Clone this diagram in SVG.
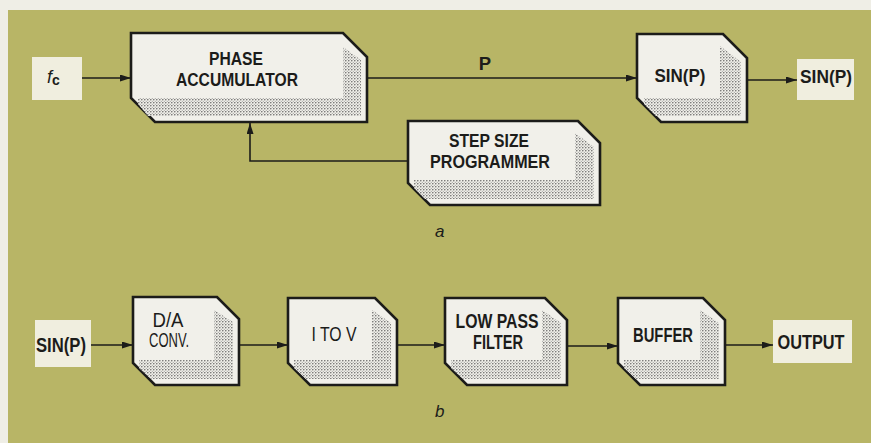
<svg xmlns="http://www.w3.org/2000/svg" width="871" height="443" viewBox="0 0 871 443">
<style>
.box{fill:#f1f0ea;stroke:#1c1c1a;stroke-width:2.6;stroke-linejoin:miter}
.shade{fill:url(#stip)}
.lbl{fill:#f0eedf}
.t{font-family:"Liberation Sans Narrow","Liberation Sans",Arial,sans-serif;font-weight:bold;fill:#1c1c1a;text-anchor:middle}
.t1{font-size:18.5px}
.t2{font-size:20px}
.lt{font-weight:normal}
.it{font-family:"Liberation Sans",Arial,sans-serif;font-style:italic;fill:#1c1c1a}
.wire{fill:none;stroke:#1c1c1a;stroke-width:1.6}
</style>
<defs>
<pattern id="stip" width="3" height="3" patternUnits="userSpaceOnUse">
<rect width="3" height="3" fill="#f1f0ea"/>
<circle cx="0.8" cy="0.8" r="0.75" fill="#5a5a5a"/>
<circle cx="2.3" cy="2.2" r="0.55" fill="#8a8a8a"/>
</pattern>
<marker id="ah" markerWidth="12" markerHeight="8" refX="11" refY="3.5" orient="auto" markerUnits="userSpaceOnUse">
<path d="M0,0 L11,3.5 L0,7 Z" fill="#1c1c1a"/>
</marker>
</defs>
<rect width="871" height="443" fill="#efeee6"/>
<rect x="8" y="10" width="863" height="433" fill="#b8b566"/>

<g id="fc">
<rect class="lbl" x="32" y="57" width="50" height="43"/>
<text class="it" x="47" y="83" font-size="18">f</text>
<text x="52" y="85" font-size="14" font-weight="bold" font-family="Liberation Sans, Arial, sans-serif" fill="#1c1c1a">c</text>
</g>

<g id="phase_accumulator">
<path class="box" d="M131,33 L343,33 L367,57 L367,122 L155,122 L131,98 Z"/>
<path class="shade" d="M343,47 L361,60 L361,116 L148,116 L138,104 L138,98 L343,98 Z"/>
<text class="t t1" x="236" y="65" textLength="54" lengthAdjust="spacingAndGlyphs">PHASE</text>
<text class="t t1" x="237" y="86" textLength="122" lengthAdjust="spacingAndGlyphs">ACCUMULATOR</text>
</g>

<g id="sinp_block">
<path class="box" d="M637,34 L723,34 L747,58 L747,122 L661,122 L637,98 Z"/>
<path class="shade" d="M720,46 L741,62 L741,116 L656,116 L644,104 L644,98 L720,98 Z"/>
<text class="t t1" x="680" y="82" textLength="51" lengthAdjust="spacingAndGlyphs">SIN(P)</text>
</g>

<g id="sinp_out">
<rect class="lbl" x="797" y="59" width="57" height="41"/>
<text class="t t1" x="826" y="83" textLength="52" lengthAdjust="spacingAndGlyphs">SIN(P)</text>
</g>

<g id="step_size_programmer">
<path class="box" d="M408,121 L578,121 L600,143 L600,205 L430,205 L408,183 Z"/>
<path class="shade" d="M575,133 L594,147 L594,199 L425,199 L414,188 L414,180 L575,180 Z"/>
<text class="t t1" x="489" y="147" textLength="80" lengthAdjust="spacingAndGlyphs">STEP SIZE</text>
<text class="t t1" x="490" y="168" textLength="120" lengthAdjust="spacingAndGlyphs">PROGRAMMER</text>
</g>

<text id="label_a" class="it" x="435" y="237" font-size="17">a</text>

<g id="sinp_in">
<rect class="lbl" x="35" y="320" width="56" height="47"/>
<text class="t t2" x="61" y="352" textLength="50" lengthAdjust="spacingAndGlyphs">SIN(P)</text>
</g>

<g id="da_conv">
<path class="box" d="M133,297 L217,297 L239,319 L239,385 L155,385 L133,363 Z"/>
<path class="shade" d="M214,310 L233,322 L233,379 L151,379 L139,368 L139,360 L214,360 Z"/>
<text class="t t2 lt" x="168" y="327" textLength="31" lengthAdjust="spacingAndGlyphs">D/A</text>
<text class="t t2 lt" x="169" y="347" textLength="40" lengthAdjust="spacingAndGlyphs">CONV.</text>
</g>

<g id="i_to_v">
<path class="box" d="M288,298 L375,298 L397,320 L397,385 L310,385 L288,363 Z"/>
<path class="shade" d="M372,310 L391,323 L391,379 L306,379 L294,368 L294,360 L372,360 Z"/>
<text class="t t2 lt" x="334" y="341" textLength="45" lengthAdjust="spacingAndGlyphs">I TO V</text>
</g>

<g id="low_pass_filter">
<path class="box" d="M445,298 L545,298 L567,320 L567,385 L467,385 L445,363 Z"/>
<path class="shade" d="M542,310 L561,323 L561,379 L463,379 L451,368 L451,360 L542,360 Z"/>
<text class="t t2" x="497" y="328" textLength="83" lengthAdjust="spacingAndGlyphs">LOW PASS</text>
<text class="t t2" x="498" y="349" textLength="50" lengthAdjust="spacingAndGlyphs">FILTER</text>
</g>

<g id="buffer">
<path class="box" d="M618,298 L703,298 L725,320 L725,385 L640,385 L618,363 Z"/>
<path class="shade" d="M700,310 L719,323 L719,379 L636,379 L624,368 L624,360 L700,360 Z"/>
<text class="t t2" x="663" y="342" textLength="60" lengthAdjust="spacingAndGlyphs">BUFFER</text>
</g>

<g id="output">
<rect class="lbl" x="773" y="320" width="79" height="43"/>
<text class="t t2" x="811" y="349" textLength="67" lengthAdjust="spacingAndGlyphs">OUTPUT</text>
</g>

<text id="label_b" class="it" x="435" y="417" font-size="17">b</text>

<g id="connectors">
<line class="wire" x1="82" y1="78" x2="131" y2="78" marker-end="url(#ah)"/>
<polyline class="wire" points="408,161 250,161 250,123" marker-end="url(#ah)"/>
<line class="wire" x1="367" y1="78" x2="637" y2="78" marker-end="url(#ah)"/>
<text class="t t1" x="485" y="70">P</text>
<line class="wire" x1="747" y1="80" x2="797" y2="80" marker-end="url(#ah)"/>
<line class="wire" x1="91" y1="345" x2="133" y2="345" marker-end="url(#ah)"/>
<line class="wire" x1="239" y1="345" x2="288" y2="345" marker-end="url(#ah)"/>
<line class="wire" x1="397" y1="345" x2="445" y2="345" marker-end="url(#ah)"/>
<line class="wire" x1="567" y1="346" x2="618" y2="346" marker-end="url(#ah)"/>
<line class="wire" x1="725" y1="345" x2="773" y2="345" marker-end="url(#ah)"/>
</g>
</svg>
